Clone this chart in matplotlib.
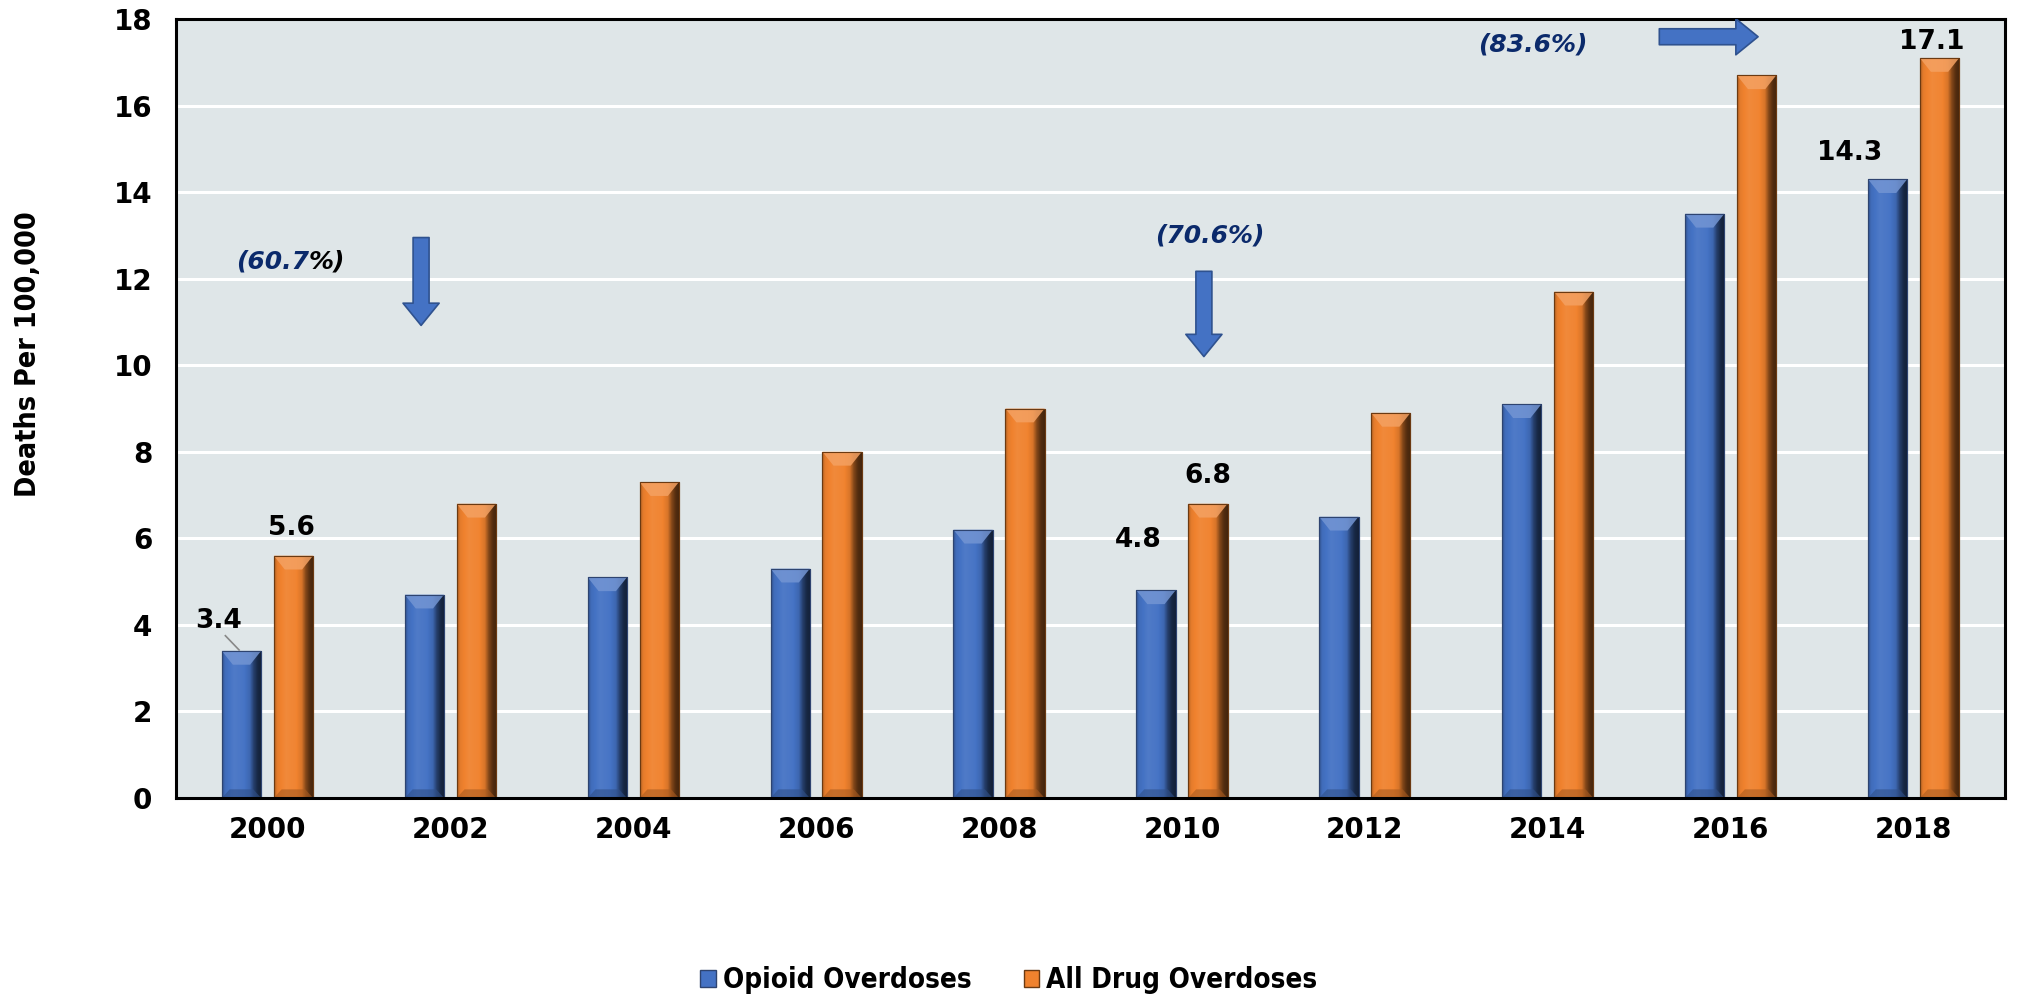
import numpy as np
import matplotlib
matplotlib.use("Agg")
import matplotlib.pyplot as plt
from matplotlib.patches import Patch, Polygon, FancyArrowPatch
from matplotlib.colors import to_rgb

# ---------------- data ----------------
years = ["2000", "2002", "2004", "2006", "2008", "2010", "2012", "2014", "2016", "2018"]
opioid = [3.4, 4.7, 5.1, 5.3, 6.2, 4.8, 6.5, 9.1, 13.5, 14.3]
all_drug = [5.6, 6.8, 7.3, 8.0, 9.0, 6.8, 8.9, 11.7, 16.7, 17.1]
series_names = ["Opioid Overdoses", "All Drug Overdoses"]
labelled_opioid = {0: "3.4", 5: "4.8", 9: "14.3"}
labelled_all = {0: "5.6", 5: "6.8", 9: "17.1"}
pct_labels = ["(60.7", "(70.6%)", "(83.6%)"]
yticks = [0, 2, 4, 6, 8, 10, 12, 14, 16, 18]

# ---------------- style ----------------
W, H = 2019, 996
fig = plt.figure(figsize=(W / 100, H / 100), dpi=100)
fig.patch.set_facecolor("white")
ax = fig.add_axes([176 / W, 1 - 798 / H, (2005 - 176) / W, (798 - 19) / H])
ax.set_facecolor("#DFE6E8")

navy = "#0B2A6B"
blue = "#4472C4"
orange = "#F0822E"

x = np.arange(len(years))
bw = 0.215
off = 0.142

b1 = ax.bar(x - off, opioid, width=bw, color=blue, edgecolor="#2E4470", linewidth=0.8, zorder=3)
b2 = ax.bar(x + off, all_drug, width=bw, color=orange, edgecolor="#6B3A12", linewidth=0.8, zorder=3)


def shade(c, f):
    c = np.array(to_rgb(c))
    if f >= 1:
        return c + (1 - c) * (f - 1)
    return c * f


def gradient_bars(bars, base):
    prof_pos = np.array([0.0, 0.07, 0.3, 0.55, 0.7, 0.8, 0.9, 1.0])
    prof_f = np.array([0.72, 0.95, 1.06, 1.02, 0.9, 0.55, 0.35, 0.28])
    n = 64
    t = np.linspace(0, 1, n)
    f = np.interp(t, prof_pos, prof_f)
    img = np.array([shade(base, v) for v in f])[None, :, :]
    img = np.clip(img, 0, 1)
    for p in bars:
        x0, y0 = p.get_x(), p.get_y()
        w, h = p.get_width(), p.get_height()
        im = ax.imshow(img, extent=[x0, x0 + w, y0, y0 + h], aspect="auto",
                       zorder=3.5, interpolation="bilinear")
        im.set_clip_path(p)
        # top bevel
        d = 0.32
        top = Polygon([[x0, y0 + h], [x0 + w, y0 + h], [x0 + 0.72 * w, y0 + h - d],
                       [x0 + 0.28 * w, y0 + h - d]], closed=True,
                      facecolor=shade(base, 1.25), edgecolor="none", alpha=0.85, zorder=3.6)
        ax.add_patch(top)
        # bottom bevel
        bot = Polygon([[x0, y0], [x0 + w, y0], [x0 + 0.8 * w, y0 + 0.2], [x0 + 0.2 * w, y0 + 0.2]],
                      closed=True, facecolor=shade(base, 0.7), edgecolor="none", alpha=0.6, zorder=3.6)
        ax.add_patch(bot)
        ax.add_patch(plt.Rectangle((x0, y0), w, h, fill=False,
                                   edgecolor=p.get_edgecolor(), linewidth=0.8, zorder=3.7))


gradient_bars(b1, blue)
gradient_bars(b2, orange)

ax.set_xlim(-0.5, len(years) - 0.5)
ax.set_ylim(0, 18)
ax.set_yticks(yticks)
ax.set_xticks(x)
ax.set_xticklabels(years)
ax.tick_params(axis="both", length=0, labelsize=20)
for lab in ax.get_xticklabels() + ax.get_yticklabels():
    lab.set_fontweight("bold")
    lab.set_fontfamily("DejaVu Sans")
ax.tick_params(axis="x", pad=13)
ax.tick_params(axis="y", pad=17)
ax.grid(axis="y", color="white", linewidth=2.2, zorder=1)
ax.set_axisbelow(True)
for s in ax.spines.values():
    s.set_color("black")
    s.set_linewidth(2.2)
    s.set_zorder(5)

fig.text(28 / W, 1 - 354 / H, "Deaths Per 100,000", rotation=90, ha="center", va="center",
         fontsize=20.5, fontweight="bold", family="DejaVu Sans", fontstretch="condensed")

# ---------------- data labels ----------------
lab_kw = dict(fontsize=19, fontweight="bold", color="black", ha="center", va="center",
              family="DejaVu Sans", zorder=6)
pos_op = {0: (-0.27, 4.1), 5: (4.76, 5.95), 9: (8.65, 14.9)}
pos_all = {0: (0.13, 6.25), 5: (5.14, 7.44), 9: (9.1, 17.47)}
for i, s in labelled_opioid.items():
    ax.text(*pos_op[i], s, **lab_kw)
for i, s in labelled_all.items():
    ax.text(*pos_all[i], s, **lab_kw)
ax.plot([-0.23, -0.155], [3.75, 3.42], color="#888888", lw=1.2, zorder=6)

# percentage callouts
pct_kw = dict(fontsize=18, fontweight="bold", style="italic", va="center", zorder=6,
              family="DejaVu Sans")
ax.text(0.225, 12.4, pct_labels[0], color=navy, ha="right", **pct_kw)
ax.text(0.225, 12.4, "%)", color="black", ha="left", **pct_kw)
ax.text(5.15, 13.0, pct_labels[1], color=navy, ha="center", **pct_kw)
ax.text(6.92, 17.4, pct_labels[2], color=navy, ha="center", **pct_kw)

# arrows
arr_style = "simple,head_length=1.6,head_width=2.6,tail_width=1.15"
for (xa, ya), (xb, yb) in [((0.84, 12.95), (0.84, 10.92)),
                           ((5.12, 12.17), (5.12, 10.2)),
                           ((7.61, 17.59), (8.15, 17.59))]:
    a = FancyArrowPatch((xa, ya), (xb, yb), arrowstyle=arr_style, mutation_scale=10,
                        facecolor=blue, edgecolor="#2F528F", linewidth=1.2,
                        shrinkA=0, shrinkB=0, zorder=6)
    ax.add_patch(a)

# ---------------- legend ----------------
handles = [Patch(facecolor=blue, edgecolor="#2E4470"), Patch(facecolor=orange, edgecolor="#6B3A12")]
leg = fig.legend(handles, series_names, loc="center", bbox_to_anchor=(0.4997, 0.016),
                 ncol=2, frameon=False, handlelength=0.55, handleheight=0.55, handletextpad=0.25,
                 columnspacing=1.9, borderaxespad=0,
                 prop=dict(family="DejaVu Sans", weight="bold", size=20, stretch="condensed"))

fig.savefig("out.png", dpi=100)
